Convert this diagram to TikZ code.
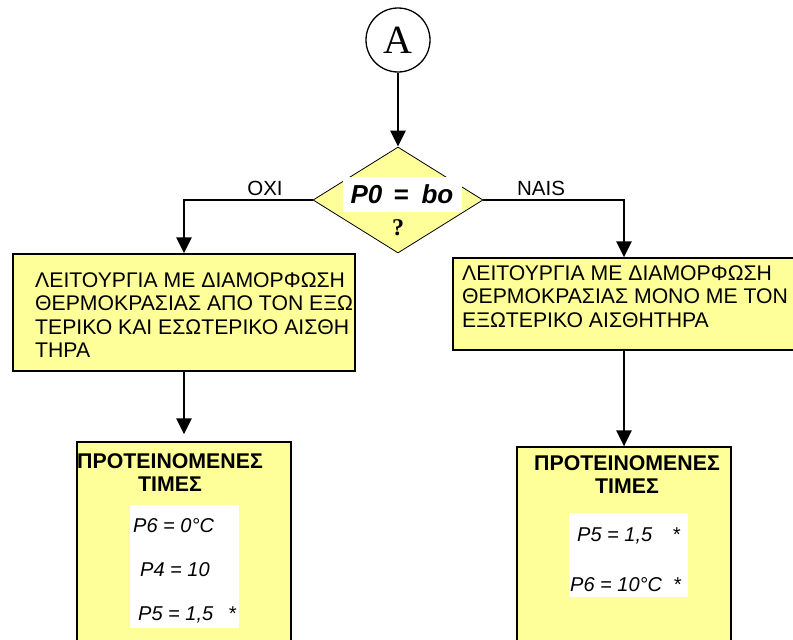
\documentclass[tikz,border=0pt]{standalone}
\usepackage{fontspec}
\setmainfont{Liberation Sans}
\newfontfamily\romanfont{Liberation Serif}
\usetikzlibrary{arrows.meta,shapes.geometric}
\definecolor{boxyellow}{RGB}{255,255,153}

\begin{document}
\begin{tikzpicture}[x=1pt,y=-1pt,
  flow/.style={line width=2.8pt,-{Triangle[length=16pt,width=15pt]}},
  opbox/.style={draw,line width=1.2pt,fill=boxyellow,inner sep=0pt},
  optext/.style={anchor=north west,inner sep=0pt,align=left,font=\fontsize{21.2}{23.6}\selectfont},
  rectitle/.style={anchor=north,inner sep=0pt,align=center,font=\fontsize{21.3}{23.5}\selectfont\bfseries},
  lcd/.style={anchor=base west,inner sep=0pt,font=\fontsize{20}{24}\selectfont\itshape}]
  \useasboundingbox (0,0) rectangle (793,640);
  \clip (0,0) rectangle (793,640);
  % start point and test
  \node[draw,circle,line width=1.3pt,minimum size=64pt,inner sep=0pt,font=\romanfont\fontsize{40}{40}\selectfont] (circA) at (398,40) {A};
  \node[diamond,draw,fill=boxyellow,line width=0.8pt,minimum width=170pt,minimum height=106pt,inner sep=0pt] (test) at (398,200) {};
  \node[fill=white,minimum width=119pt,minimum height=35pt,inner sep=0pt,font=\fontsize{26}{26}\selectfont\bfseries\itshape] (testval) at (402,194) {P0\hspace{11pt}=\hspace{13pt}bo};
  \node[inner sep=0pt,font=\romanfont\fontsize{24}{24}\selectfont\bfseries] (testq) at (398,228) {?};
  \node[anchor=base,inner sep=0pt,font=\fontsize{20.5}{20.5}\selectfont] (lblno) at (265,195) {OXI};
  \node[anchor=base,inner sep=0pt,font=\fontsize{20.5}{20.5}\selectfont] (lblyes) at (541,195) {NAIS};

  % operating modes
  \node[opbox,minimum width=342pt,minimum height=117pt] (opl) at (184,312.5) {};
  \node[optext] (opltxt) at (35,272) {ΛΕΙΤΟΥΡΓΙΑ ΜΕ ΔΙΑΜΟΡΦΩΣΗ\\ΘΕΡΜΟΚΡΑΣΙΑΣ ΑΠΟ ΤΟΝ ΕΞΩ\\ΤΕΡΙΚΟ ΚΑΙ ΕΣΩΤΕΡΙΚΟ ΑΙΣΘΗ\\ΤΗΡΑ};
  \node[opbox,minimum width=342pt,minimum height=92pt] (opr) at (624,304) {};
  \node[optext] (oprtxt) at (462,265) {ΛΕΙΤΟΥΡΓΙΑ ΜΕ ΔΙΑΜΟΡΦΩΣΗ\\ΘΕΡΜΟΚΡΑΣΙΑΣ ΜΟΝΟ ΜΕ ΤΟΝ\\ΕΞΩΤΕΡΙΚΟ ΑΙΣΘΗΤΗΡΑ};

  % suggested values
  \node[opbox,minimum width=214pt,minimum height=218pt] (recl) at (184,551) {};
  \node[rectitle] (recltxt) at (170,453) {ΠΡΟΤΕΙΝΟΜΕΝΕΣ\\ΤΙΜΕΣ};
  \node[fill=white,minimum width=109pt,minimum height=123pt,inner sep=0pt] (vall) at (184.5,566.5) {};
  \node[lcd] (vall1) at (133,532) {P6 = 0°C};
  \node[lcd] (vall2) at (140,576) {P4 = 10};
  \node[lcd] (vall3) at (138,620) {P5 = 1,5\hspace{15pt}*};

  \node[opbox,minimum width=214pt,minimum height=220pt] (recr) at (624,557) {};
  \node[rectitle] (recrtxt) at (627,455) {ΠΡΟΤΕΙΝΟΜΕΝΕΣ\\ΤΙΜΕΣ};
  \node[fill=white,minimum width=119pt,minimum height=84pt,inner sep=0pt] (valr) at (628.5,555) {};
  \node[lcd] (valr1) at (577,541) {P5 = 1,5\hspace{20pt}*};
  \node[lcd] (valr2) at (570,591) {P6 = 10°C\hspace{11pt}*};

  % connectors
  \draw[flow] (circA) -- (test);
  \draw[flow] (test.west) -| (opl.north);
  \draw[flow] (test.east) -| (opr.north);
  \draw[flow,shorten >=7pt] (opl) -- (recl);
  \draw[flow] (opr) -- (recr);
\end{tikzpicture}
\end{document}
